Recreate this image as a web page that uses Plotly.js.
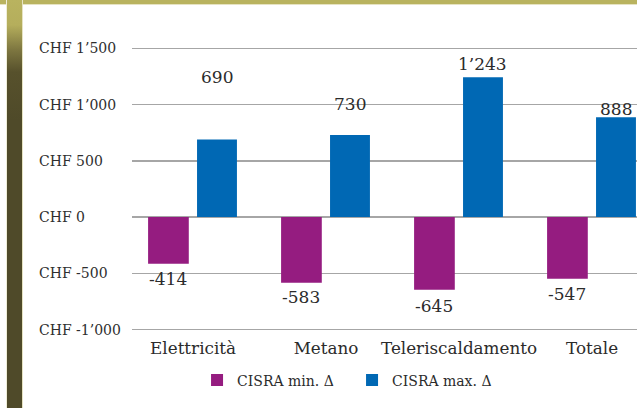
<!DOCTYPE html>
<html>
<head>
<meta charset="utf-8">
<script src="https://cdn.plot.ly/plotly-3.0.1.min.js"></script>
<style>
  html, body { margin: 0; padding: 0; background: #ffffff; }
  #wrap { position: relative; width: 637px; height: 408px; overflow: hidden; background: #ffffff; }
  #topband { position: absolute; left: 0; top: 0; width: 637px; height: 4px; background: #b9b35f; border-bottom: 1px solid #e6e3c2; }
  #leftband { position: absolute; left: 6px; top: 0; width: 15px; height: 408px;
    background: linear-gradient(to bottom, #b9b35f 0px, #b5ae5c 25px, #7d7640 50px, #57512c 72px, #4f4a29 120px, #4f4a29 408px);
    border-left: 1px solid #f0eed8; border-right: 1px solid #e6e3c2; }
  #chart { position: absolute; left: 0; top: 0; width: 637px; height: 408px; }
</style>
</head>
<body>
<div id="wrap">
  <div id="topband"></div>
  <div id="leftband"></div>
  <div id="chart"></div>
</div>
<script>
const categories = ["Elettricità", "Metano", "Teleriscaldamento", "Totale"];
const seriesNames = ["CISRA min. Δ", "CISRA max. Δ"];
const minValues = [-414, -583, -645, -547];
const maxValues = [690, 730, 1243, 888];
const yTickVals = [-1000, -500, 0, 500, 1000, 1500];
const yTickText = ["CHF -1’000", "CHF -500", "CHF 0", "CHF 500", "CHF 1’000", "CHF 1’500"];

// label placement (pixels beyond bar end), styling only
const minLabelGap = [15, 14, 16, 15];
const maxLabelGap = [63, 31, 13, 8];

function fmt(v) {
  const s = Math.abs(v).toString().replace(/\B(?=(\d{3})+(?!\d))/g, "’");
  return (v < 0 ? "-" : "") + s;
}

const FONT = "DejaVu Serif, Liberation Serif, serif";
const TXT = "#2b2b2b";
const OFF_MIN = -0.338, W_MIN = 0.306, OFF_MAX = 0.03, W_MAX = 0.30;

const traces = [
  {
    type: "bar", name: seriesNames[0], x: categories, y: minValues,
    marker: { color: "#951c80" }, offset: OFF_MIN, width: W_MIN, hoverinfo: "none"
  },
  {
    type: "bar", name: seriesNames[1], x: categories, y: maxValues,
    marker: { color: "#0068b4" }, offset: OFF_MAX, width: W_MAX, hoverinfo: "none"
  }
];

const annotations = yTickVals.map((v, i) => ({
  xref: "paper", yref: "y", x: -0.188, y: v, xanchor: "left", yanchor: "middle",
  text: yTickText[i], showarrow: false,
  font: { family: FONT, size: 14, color: "#2e2e2e" }
}));

minValues.forEach((v, i) => annotations.push({
  xref: "x", yref: "y", x: i + OFF_MIN + W_MIN / 2, y: v, yshift: -minLabelGap[i],
  xanchor: "center", yanchor: "middle", text: fmt(v), showarrow: false,
  font: { family: FONT, size: 17, color: TXT }
}));
maxValues.forEach((v, i) => annotations.push({
  xref: "x", yref: "y", x: i + OFF_MAX + W_MAX / 2, y: v, yshift: maxLabelGap[i],
  xanchor: "center", yanchor: "middle", text: fmt(v), showarrow: false,
  font: { family: FONT, size: 17, color: TXT }
}));

const layout = {
  width: 637, height: 408,
  margin: { l: 132, r: 0, t: 47, b: 77, pad: 0 },
  paper_bgcolor: "rgba(0,0,0,0)", plot_bgcolor: "rgba(0,0,0,0)",
  barmode: "overlay",
  showlegend: true,
  legend: {
    orientation: "h", x: 0.1288, xanchor: "left", y: -0.118, yanchor: "top",
    entrywidth: 110, entrywidthmode: "pixels",
    font: { family: FONT, size: 14, color: TXT }, bgcolor: "rgba(0,0,0,0)"
  },
  xaxis: {
    type: "category", range: [-0.459, 3.338], showgrid: false, zeroline: false,
    showline: false, ticks: "outside", ticklen: 2, tickcolor: "rgba(0,0,0,0)",
    tickfont: { family: FONT, size: 16.8, color: TXT },
    fixedrange: true
  },
  yaxis: {
    range: [-1012.6, 1512.6], tickvals: yTickVals, showticklabels: false,
    showgrid: true, gridcolor: "#a6a6a6", gridwidth: 1.3,
    zeroline: true, zerolinecolor: "#a6a6a6", zerolinewidth: 1.3,
    showline: false, ticks: "", fixedrange: true
  },
  annotations: annotations
};

Plotly.newPlot("chart", traces, layout, { displayModeBar: false, staticPlot: true });
</script>
</body>
</html>
